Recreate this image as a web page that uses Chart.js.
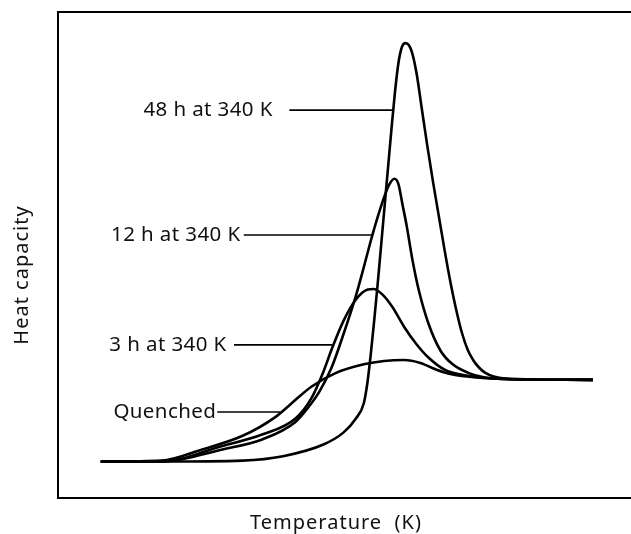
<!DOCTYPE html>
<html>
<head>
<meta charset="utf-8">
<script src="https://cdn.jsdelivr.net/npm/chart.js@4.4.1/dist/chart.umd.min.js"></script>
<style>
    html, body { margin: 0; padding: 0; background: #fff; overflow: hidden; }
    #wrap { position: relative; width: 640px; height: 534px; }
</style>
</head>
<body>
<div id="wrap"><canvas id="cpCanvas"></canvas></div>
<script>
// temperature / heat capacity, arbitrary units (0-100 on both axes)
const quenchedT  = [7.4, 17.9, 25.0, 32.0, 37.6, 40.4, 43.9, 48.1, 53.0, 56.5, 60.0, 62.8, 65.6, 68.4, 72.6, 77.5, 92.7];
const quenchedCp = [7.5, 7.7, 10.0, 12.8, 16.6, 19.4, 22.9, 25.7, 27.5, 28.2, 28.4, 27.8, 26.4, 25.4, 24.8, 24.5, 24.3];

const h3T  = [7.4, 17.9, 28.5, 35.5, 41.1, 43.9, 46.0, 47.4, 49.5, 51.6, 53.7, 54.7, 56.2, 57.9, 60.0, 62.1, 64.2, 67.0, 69.8, 73.3, 77.5, 92.7];
const h3Cp = [7.5, 7.5, 10.7, 13.1, 16.3, 20.5, 26.0, 30.5, 36.5, 40.8, 42.9, 43.0, 41.9, 39.4, 35.2, 31.7, 28.9, 26.4, 25.4, 24.8, 24.5, 24.3];

const h12T  = [7.4, 17.9, 28.5, 35.5, 41.1, 43.2, 45.3, 47.4, 49.5, 51.6, 53.0, 54.0, 55.2, 56.4, 57.4, 58.3, 59.0, 59.7, 60.4, 61.4, 62.5, 64.2, 66.3, 68.4, 71.2, 74.0, 77.5, 92.7];
const h12Cp = [7.5, 7.5, 10.0, 12.1, 15.6, 18.4, 21.9, 26.8, 33.8, 41.5, 47.5, 52.0, 57.0, 61.5, 64.5, 65.7, 64.6, 60.4, 56.2, 49.2, 42.9, 35.9, 30.3, 27.5, 25.7, 24.8, 24.5, 24.3];

const h48T  = [7.4, 18.0, 32.0, 39.0, 46.0, 49.5, 51.6, 53.0, 53.6, 54.2, 54.8, 55.4, 56.0, 56.6, 57.2, 57.8, 58.4, 59.0, 59.6, 60.2, 60.8, 61.4, 62.2, 63.0, 64.0, 65.0, 66.0, 67.0, 68.0, 69.0, 70.0, 71.0, 72.0, 73.0, 74.0, 75.5, 77.5, 92.7];
const h48Cp = [7.5, 7.5, 7.7, 8.6, 11.0, 13.5, 16.3, 19.5, 23.5, 29.5, 36.5, 44.0, 52.0, 60.0, 68.0, 76.0, 83.5, 89.5, 92.8, 93.6, 93.2, 91.5, 87.0, 80.5, 72.5, 65.0, 58.0, 51.0, 44.5, 38.8, 34.0, 30.5, 28.3, 26.8, 25.8, 25.0, 24.6, 24.3];

// curve labels: text, level (Cp), text start, leader start, leader end (T)
const labelTexts = ['48 h at 340 K', '12 h at 340 K', '3 h at 340 K', 'Quenched'];
const labelCp    = [79.8, 54.1, 31.5, 17.7];
const labelTextT = [14.8, 9.2, 8.9, 9.6];
const leaderFromT = [40.1, 32.2, 30.5, 27.6];
const leaderToT   = [58.2, 54.4, 47.6, 38.5];

const xTitle = 'Temperature  (K)';
const yTitle = 'Heat capacity';

const FONT = '"Noto Sans", sans-serif';

function toPoints(xs, ys) {
    return xs.map((x, i) => ({ x: x, y: ys[i] }));
}

function curve(label, xs, ys) {
    return {
        label: label,
        data: toPoints(xs, ys),
        borderColor: '#000',
        borderWidth: 2.6,
        pointRadius: 0,
        fill: false,
        cubicInterpolationMode: 'monotone'
    };
}

const datasets = [
    curve('Quenched', quenchedT, quenchedCp),
    curve('3 h', h3T, h3Cp),
    curve('12 h', h12T, h12Cp),
    curve('48 h', h48T, h48Cp)
];

// leader lines from each label to its curve
labelTexts.forEach((t, i) => {
    datasets.push({
        label: 'leader ' + t,
        data: [{ x: leaderFromT[i], y: labelCp[i] }, { x: leaderToT[i], y: labelCp[i] }],
        borderColor: '#000',
        borderWidth: 1.6,
        pointRadius: 0,
        tension: 0
    });
});

const annotate = {
    id: 'annotate',
    afterDraw(chart) {
        const ctx = chart.ctx;
        const area = chart.chartArea;
        const xs = chart.scales.x;
        const ys = chart.scales.y;
        ctx.save();

        // frame
        ctx.strokeStyle = '#000';
        ctx.lineWidth = 2;
        ctx.strokeRect(area.left, area.top, area.right - area.left, area.bottom - area.top);

        // curve labels
        ctx.fillStyle = '#111';
        ctx.font = '20.5px ' + FONT;
        ctx.letterSpacing = '0.4px';
        ctx.textBaseline = 'middle';
        ctx.textAlign = 'left';
        labelTexts.forEach((t, i) => {
            ctx.fillText(t, xs.getPixelForValue(labelTextT[i]), ys.getPixelForValue(labelCp[i]));
        });

        // axis titles
        ctx.font = '20px ' + FONT;
        ctx.letterSpacing = '1px';
        ctx.textAlign = 'center';
        ctx.fillText(xTitle, 336, 523);
        ctx.translate(22, 275);
        ctx.rotate(-Math.PI / 2);
        ctx.fillText(yTitle, 0, 0);
        ctx.restore();
    }
};

new Chart(document.getElementById('cpCanvas'), {
    type: 'line',
    data: { datasets: datasets },
    options: {
        responsive: true,
        maintainAspectRatio: false,
        animation: false,
        layout: { padding: { left: 58, top: 12, right: 5, bottom: 36 } },
        plugins: {
            legend: { display: false },
            tooltip: { enabled: false }
        },
        scales: {
            x: { type: 'linear', min: 0, max: 100, display: false },
            y: { type: 'linear', min: 0, max: 100, display: false }
        }
    },
    plugins: [annotate]
});
</script>
</body>
</html>
